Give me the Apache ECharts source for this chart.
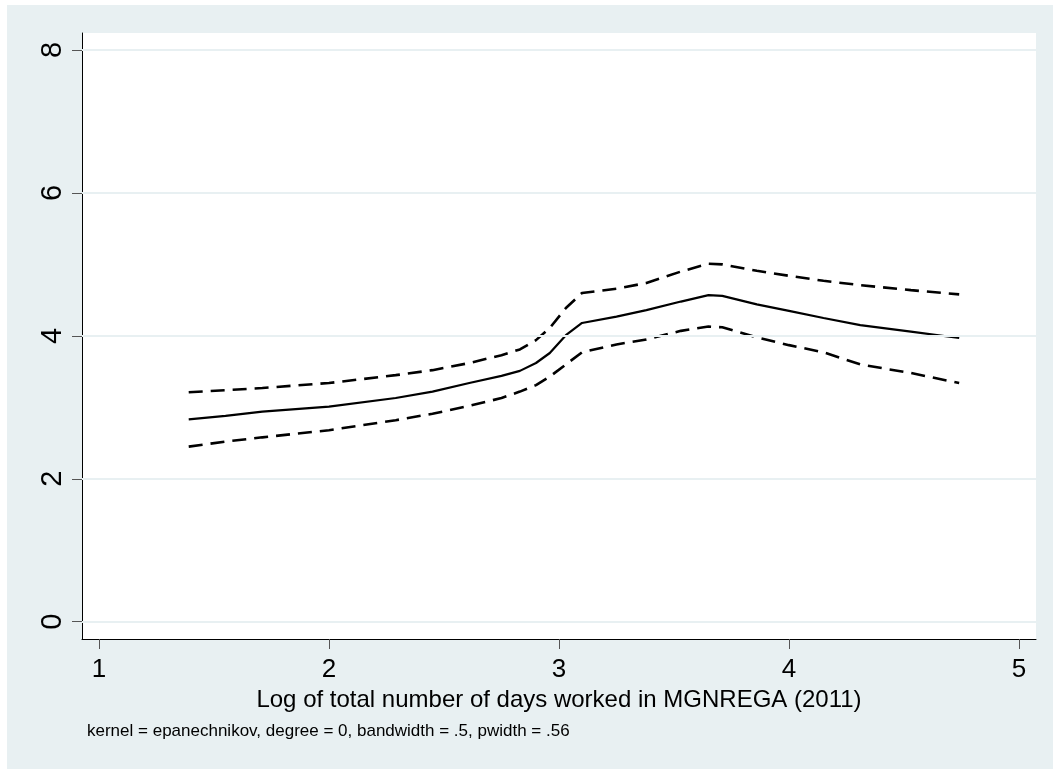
<!DOCTYPE html>
<html>
<head>
<meta charset="utf-8">
<script src="https://cdn.jsdelivr.net/npm/echarts@6/dist/echarts.min.js"></script>
<style>
  html, body { margin: 0; padding: 0; background: #fff; }
  #chart { width: 1053px; height: 769px; }
</style>
</head>
<body>
<div id="chart"></div>
<script>
// log days worked (x) and smoothed estimate with confidence band
var xDays = [1.39, 1.55, 1.71, 2.0, 2.29, 2.45, 2.61, 2.75, 2.83, 2.9, 2.96, 3.03, 3.1, 3.25, 3.38, 3.53, 3.65, 3.71, 3.86, 4.0, 4.15, 4.31, 4.53, 4.74];
var fitMid = [2.83, 2.88, 2.94, 3.01, 3.13, 3.22, 3.34, 3.44, 3.51, 3.62, 3.76, 4.01, 4.18, 4.27, 4.36, 4.48, 4.57, 4.56, 4.44, 4.35, 4.25, 4.15, 4.06, 3.97];
var fitUpper = [3.21, 3.24, 3.27, 3.34, 3.45, 3.52, 3.62, 3.73, 3.81, 3.94, 4.11, 4.39, 4.60, 4.66, 4.74, 4.90, 5.01, 5.00, 4.91, 4.84, 4.77, 4.71, 4.64, 4.58];
var fitLower = [2.45, 2.52, 2.58, 2.68, 2.82, 2.91, 3.02, 3.13, 3.22, 3.31, 3.43, 3.60, 3.77, 3.88, 3.95, 4.07, 4.13, 4.12, 3.98, 3.87, 3.77, 3.60, 3.48, 3.34];
var xTicks = [1, 2, 3, 4, 5];
var yTicks = [0, 2, 4, 6, 8];

function pairs(ys) {
    return xDays.map(function (x, i) { return [x, ys[i]]; });
}

var font = 'Liberation Sans, Arial, sans-serif';
var myChart = echarts.init(document.getElementById('chart'));

var option = {
    backgroundColor: '#fff',
    animation: false,
    graphic: [
        { type: 'rect', z: -10, shape: { x: 7, y: 5, width: 1046, height: 764 }, style: { fill: '#e8f0f2' } },
        { type: 'text', left: 87, top: 723, style: { text: 'kernel = epanechnikov, degree = 0, bandwidth = .5, pwidth = .56', font: '17px ' + font, fill: '#000' } }
    ],
    grid: { left: 82, right: 17, top: 33, bottom: 130, show: true, backgroundColor: '#fff', borderWidth: 0 },
    xAxis: {
        type: 'value', min: 0.926, max: 5.074,
        name: 'Log of total number of days worked in MGNREGA (2011)',
        nameLocation: 'middle', nameGap: 46,
        nameTextStyle: { fontFamily: font, fontSize: 24, color: '#000' },
        axisLine: { onZero: false, lineStyle: { color: '#000', width: 1 } },
        axisTick: { customValues: xTicks, length: 10, lineStyle: { color: '#555' } },
        axisLabel: { customValues: xTicks, margin: 18, fontFamily: font, fontSize: 26, color: '#000' },
        splitLine: { show: false }
    },
    yAxis: {
        type: 'value', min: -0.242, max: 8.238,
        axisLine: { show: true, onZero: false, lineStyle: { color: '#000', width: 1 } },
        axisTick: { show: true, customValues: yTicks, length: 10, lineStyle: { color: '#555' } },
        axisLabel: { customValues: yTicks, rotate: 90, margin: 15, fontFamily: font, fontSize: 29, color: '#000' },
        splitLine: { show: false }
    },
    series: [
        {
            type: 'line', data: [], silent: true,
            markLine: {
                silent: true, symbol: 'none', label: { show: false },
                lineStyle: { color: '#e8f0f2', width: 2, type: 'solid' },
                data: yTicks.map(function (v) { return { yAxis: v }; })
            }
        },
        { name: 'upper', type: 'line', data: pairs(fitUpper), showSymbol: false, lineStyle: { color: '#000', width: 2.6, type: [14, 8] } },
        { name: 'fit', type: 'line', data: pairs(fitMid), showSymbol: false, lineStyle: { color: '#000', width: 2.2 } },
        { name: 'lower', type: 'line', data: pairs(fitLower), showSymbol: false, lineStyle: { color: '#000', width: 2.6, type: [14, 8] } }
    ]
};

myChart.setOption(option);
</script>
</body>
</html>
